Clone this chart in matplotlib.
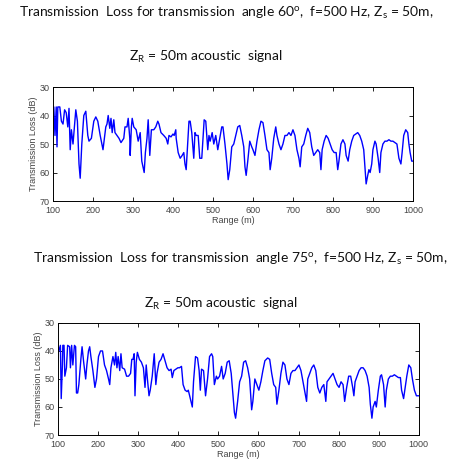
import matplotlib
matplotlib.use("Agg")
import matplotlib.pyplot as plt

# top panel: angle 60 deg
r60 = [100, 102, 105, 108, 110, 112, 117, 121, 125, 129, 133, 137, 140, 143, 146, 150,
       157, 161, 165, 168, 172, 177, 182, 187, 190, 196, 202, 207, 212, 218, 225, 232,
       235, 238, 242, 245, 248, 252, 255, 260, 265, 270, 277, 280, 285, 288, 292, 293,
       296, 298, 302, 308, 313, 318, 322, 325, 328, 331, 335, 338, 342, 346, 352, 357,
       362, 365, 370, 377, 383, 387, 390, 395, 400, 403, 407, 408, 413, 418, 423, 427,
       430, 433, 437, 440, 443, 447, 452, 455, 458, 463, 467, 472, 475, 478, 482, 487,
       490, 493, 498, 502, 507, 512, 517, 522, 525, 530, 535, 538, 542, 547, 552, 557,
       562, 567, 572, 577, 580, 583, 587, 592, 597, 600, 605, 610, 615, 620, 625, 630,
       635, 640, 643, 647, 652, 657, 660, 665, 670, 675, 680, 685, 690, 695, 700, 705,
       710, 715, 718, 722, 727, 732, 737, 742, 747, 752, 757, 762, 767, 770, 773, 778,
       783, 788, 793, 798, 803, 808, 812, 815, 820, 825, 830, 833, 838, 842, 847, 852,
       857, 862, 867, 872, 877, 880, 883, 887, 890, 893, 897, 900, 905, 908, 913, 917,
       920, 925, 930, 935, 940, 945, 950, 955, 960, 965, 970, 973, 977, 982, 987, 990,
       993, 997, 1000]
tl60 = [37, 37, 47, 37, 51, 37, 37, 42, 43, 38, 39, 44, 37.5, 52, 45, 50,
        38, 42, 57, 62, 50, 40, 38.5, 47, 49, 48, 42, 40.5, 42, 47, 52, 44,
        43, 40, 44.5, 41, 46, 41.5, 46, 47, 48, 49.5, 48, 44, 44, 41, 48, 54,
        44, 41, 44, 45, 49, 46, 56, 58, 60, 53, 48, 41.5, 54, 45, 45, 44,
        42, 43, 46, 47, 48, 50, 47, 47.5, 46.5, 47, 45, 48, 53, 55, 54, 53,
        57, 59, 49, 42, 42, 46, 55, 46, 47, 47, 55, 55, 48, 41.5, 42, 52,
        47, 49, 46, 50, 47, 52, 48, 44, 44, 50, 57, 62.5, 59, 51, 50, 47,
        44, 43.5, 47, 51, 58, 61, 56, 49, 51, 52, 54, 49, 45, 42, 42.5, 47,
        52, 53, 59, 55, 48, 44, 47, 50, 52, 50, 47, 47, 46, 47, 45, 47,
        52, 55, 58, 51, 50, 47, 44.5, 46, 51, 54, 53, 52, 53, 59, 52, 49,
        47, 48, 50, 52, 53, 53, 59, 56, 50, 48.5, 50, 54, 56, 52, 49, 47,
        46.5, 46, 47, 49, 52, 58, 64, 61, 59, 60, 57, 52, 49, 50, 55, 60,
        53, 50, 49, 49, 48.5, 49, 49, 49.5, 50, 55, 57, 53, 47, 45, 46, 50,
        53, 56, 56]

# bottom panel: angle 75 deg
r75 = [100, 102, 106, 108, 111, 112, 115, 117, 121, 124, 129, 131, 134, 137, 141, 144,
       146, 149, 152, 157, 160, 164, 169, 172, 176, 179, 182, 187, 192, 196, 201, 206,
       211, 216, 221, 226, 229, 232, 237, 241, 244, 247, 250, 254, 257, 260, 266, 271,
       276, 281, 284, 287, 290, 292, 295, 298, 303, 308, 313, 317, 320, 323, 327, 330,
       335, 340, 344, 347, 352, 357, 362, 368, 372, 377, 382, 385, 389, 394, 399, 403,
       408, 412, 417, 422, 425, 430, 435, 438, 443, 448, 452, 455, 458, 463, 468, 473,
       478, 483, 486, 490, 495, 498, 503, 508, 512, 517, 522, 527, 532, 536, 540, 543,
       548, 553, 558, 563, 568, 573, 578, 583, 586, 591, 596, 601, 606, 611, 616, 623,
       628, 633, 638, 643, 646, 651, 656, 661, 666, 671, 676, 681, 686, 691, 696, 701,
       706, 711, 716, 720, 723, 728, 733, 738, 743, 748, 753, 758, 763, 768, 771, 776,
       781, 786, 791, 796, 801, 806, 811, 815, 820, 825, 830, 835, 838, 841, 846, 851,
       856, 861, 866, 871, 876, 879, 883, 886, 891, 894, 899, 904, 907, 912, 916, 919,
       924, 929, 934, 939, 944, 949, 954, 957, 962, 965, 970, 975, 980, 984, 989, 994,
       1000]
tl75 = [39, 40, 38, 57, 45, 38, 38, 49, 46, 38, 38.5, 46, 38, 45, 38, 38.5,
        55, 55, 52, 43, 38.5, 44, 50, 45, 40, 38.5, 42, 47, 53, 50, 42, 40,
        40, 45, 47, 50, 52, 46, 42, 45, 40.5, 46, 42, 47, 41, 46, 46.5, 49,
        49, 48, 43, 43, 41, 56, 44, 40.5, 43, 44, 46, 53, 45, 50, 56, 54,
        49, 41, 52, 48, 44, 43, 41, 44, 46, 47, 46.5, 49.5, 47, 46.5, 46, 46,
        45.5, 52, 54, 54.5, 54, 57, 60, 51, 42, 42.5, 47, 54, 46.5, 47, 56, 50,
        42, 41, 42, 52, 49, 50, 49, 45.5, 50, 48, 44, 43.5, 48, 55, 62, 64,
        58, 51, 49, 44, 43.5, 46, 50, 61, 58, 50, 52, 54, 51, 47, 43.5, 42.5,
        43, 48, 52, 53, 59, 54, 48, 44, 45, 50, 52, 48, 47, 47, 46, 45,
        47, 51, 55, 58, 50, 48, 46, 45, 47, 53, 55, 53, 52, 58, 51, 50,
        49, 48, 50, 52, 53, 51, 52, 58, 53, 49, 49, 53, 56, 51, 49, 47,
        46, 46, 47, 49, 53, 59, 64, 60, 58, 60, 54, 49, 48.5, 52, 60, 54,
        50, 49, 49, 48.5, 49, 49.5, 49.5, 54, 57, 54, 49, 45, 46, 50, 54, 56,
        56]

xticks = list(range(100, 1001, 100))
yticks = [30, 40, 50, 60, 70]

plt.rcParams['mathtext.fontset'] = 'custom'
plt.rcParams['mathtext.rm'] = 'Lato'
plt.rcParams['mathtext.it'] = 'Lato:italic'

fig = plt.figure(figsize=(4.55, 4.65), dpi=100)


def panel(rect, r, tl):
    ax = fig.add_axes(rect)
    ax.plot(r, tl, color='#0000ff', lw=1.0)
    ax.set_xlim(100, 1000)
    ax.set_ylim(70, 30)
    ax.set_xticks(xticks)
    ax.set_yticks(yticks)
    ax.tick_params(direction='in', top=True, right=True, length=3, width=0.6,
                   labelsize=6.5, labelcolor='#444444')
    ax.tick_params(axis='x', pad=3.5)
    ax.tick_params(axis='y', pad=2.5)
    for lab in ax.get_xticklabels() + ax.get_yticklabels():
        lab.set_family('Liberation Sans')
    for s in ax.spines.values():
        s.set_linewidth(0.7)
    ax.set_xlabel('Range (m)', fontsize=6.5, family='Liberation Sans', color='#444444', labelpad=1)
    ax.set_ylabel('Transmission Loss (dB)', fontsize=6.5, family='Liberation Sans', color='#444444', labelpad=1)
    return ax


panel([0.1165, 0.5677, 0.791, 0.2452], r60, tl60)
panel([0.1275, 0.0645, 0.793, 0.241], r75, tl75)

tfont = dict(family='Lato', fontsize=10, color='#111111', ha='center', va='center')
fig.text(226 / 455, 1 - 13 / 465,
         r'Transmission  Loss for transmission  angle 60$^\mathrm{o}$,  f=500 Hz, Z$_\mathrm{s}$ = 50m,', **tfont)
fig.text(206 / 455, 1 - 57 / 465, r'Z$_\mathrm{R}$ = 50m acoustic  signal', **tfont)
fig.text(240 / 455, 1 - 259 / 465,
         r'Transmission  Loss for transmission  angle 75$^\mathrm{o}$,  f=500 Hz, Z$_\mathrm{s}$ = 50m,', **tfont)
fig.text(221 / 455, 1 - 304 / 465, r'Z$_\mathrm{R}$ = 50m acoustic  signal', **tfont)

fig.savefig('out.png', dpi=100)
